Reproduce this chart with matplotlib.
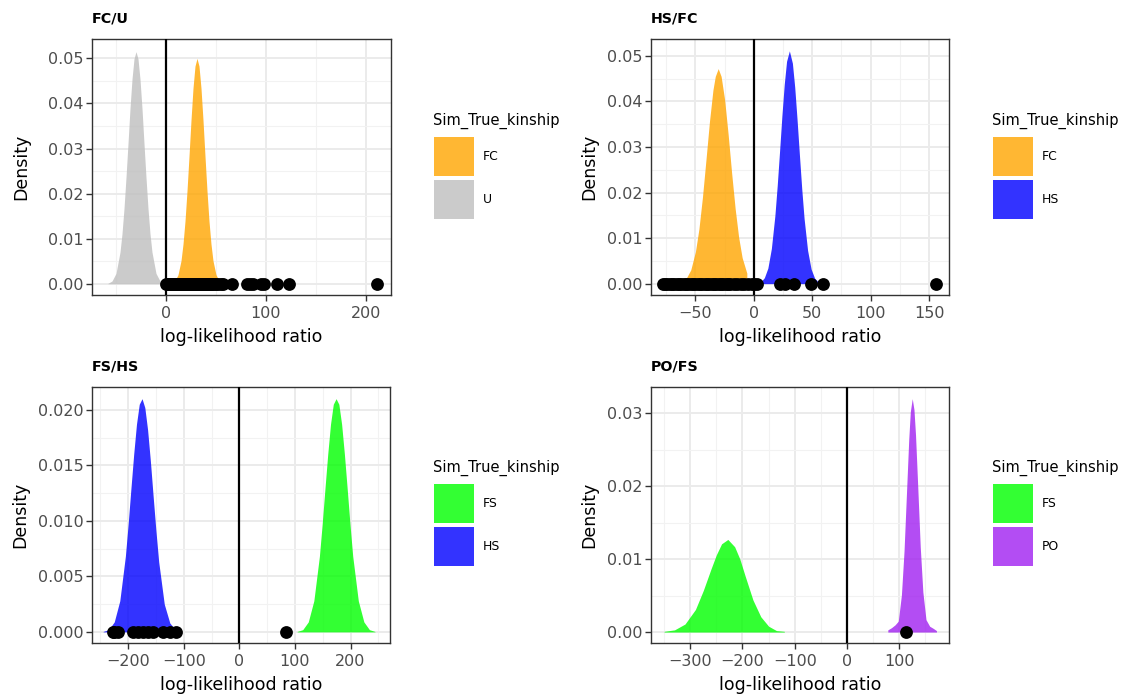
import numpy as np
import matplotlib
matplotlib.use("Agg")
import matplotlib.pyplot as plt
from matplotlib.patches import Rectangle

# ---- data ----
# FC/U panel
fcu_U_x = [-58, -54, -50, -46, -44, -42, -40, -38, -36, -34, -32, -30, -28, -26, -24, -22, -20, -18, -16, -14, -10, -6, -2]
fcu_U_y = [.0001, .0006, .0023, .0070, .0111, .0167, .0236, .0311, .0389, .0454, .0499, .0515, .0499, .0454, .0389, .0311, .0236, .0167, .0111, .0070, .0023, .0006, .0001]
fcu_FC_x = [9, 12, 15, 17, 19, 21, 23, 25, 27, 29, 31, 33, 35, 37, 39, 41, 43, 45, 47, 50, 53]
fcu_FC_y = [.0007, .0020, .0051, .0088, .0139, .0206, .0283, .0363, .0434, .0483, .0500, .0483, .0434, .0363, .0283, .0206, .0139, .0088, .0051, .0020, .0007]
fcu_obs = [0, 1, 2, 3, 4, 5, 6, 7, 8, 9, 10, 11, 12, 13, 14, 15, 16, 17, 18, 19, 20, 21, 22, 23, 24, 25, 26,
           27, 28, 29, 30, 31, 32, 33, 34, 35, 36, 37, 38, 39, 40, 41, 42, 43, 44, 45, 46, 48, 50, 52, 55, 57,
           66, 81, 84, 87, 95, 98, 111, 123, 211]

# HS/FC panel
hsfc_FC_x = [-58, -54, -50, -47, -44, -41, -38, -35, -33, -30.5, -28, -25, -22, -19, -16, -13, -10, -6]
hsfc_FC_y = [.0011, .0030, .0070, .0120, .0189, .0271, .0355, .0425, .0455, .0472, .0455, .0404, .0328, .0243, .0165, .0102, .0057, .0023]
hsfc_HS_x = [6, 9, 12, 15, 18, 20, 22, 24, 26, 28, 30.4, 33, 35, 37, 39, 41, 43, 46, 49, 52, 55]
hsfc_HS_y = [.0004, .0013, .0034, .0077, .0149, .0215, .0290, .0368, .0437, .0488, .0511, .0484, .0431, .0360, .0283, .0208, .0143, .0073, .0032, .0012, .0004]
hsfc_obs = [-78, -76, -74, -72, -70, -68, -66, -64, -62, -60, -58, -56, -54, -52, -50, -48, -46, -44, -42, -40,
            -38, -36, -34, -32, -30, -28, -26, -24, -22, -20, -17, -14, -11, -8, -5, -2, 0, 3, 22, 27, 34, 49, 59, 156]

# FS/HS panel
fshs_HS_x = [-245, -235, -225, -215, -205, -200, -195, -190, -185, -180, -175, -170, -165, -160, -155, -150, -145, -135, -125, -115, -105]
fshs_HS_y = [.00004, .0002, .0009, .0028, .0068, .0097, .0129, .0160, .0187, .0205, .0210, .0202, .0182, .0154, .0122, .0091, .0063, .0025, .0008, .0002, .00004]
fshs_FS_x = [104, 114, 124, 134, 144, 149, 154, 159, 164, 169, 174, 179, 184, 189, 194, 199, 204, 214, 224, 234, 244]
fshs_FS_y = [.00004, .0002, .0009, .0028, .0068, .0097, .0129, .0160, .0187, .0205, .0210, .0205, .0187, .0160, .0129, .0097, .0068, .0028, .0009, .0002, .00004]
fshs_obs = [-228, -225, -218, -191, -182, -173, -164, -156, -137, -125, -114, 84]

# PO/FS panel
pofs_FS_x = [-350, -330, -310, -290, -275, -260, -250, -240, -228, -215, -205, -195, -180, -165, -150, -135, -120]
pofs_FS_y = [.0001, .0003, .0011, .0031, .0057, .0087, .0106, .0121, .0127, .0117, .0100, .0077, .0044, .0021, .0008, .0002, .0001]
pofs_PO_x = [78, 85, 92, 98, 104, 109, 114, 118, 121, 124.7, 128, 131, 135, 140, 145, 151, 158, 165, 171]
pofs_PO_y = [.0003, .0006, .0010, .0015, .0051, .0111, .0196, .0264, .0302, .0320, .0305, .0270, .0203, .0117, .0055, .0017, .0008, .0005, .0002]
pofs_obs = [113]

titles = ["FC/U", "HS/FC", "FS/HS", "PO/FS"]
legend_labels = [["FC", "U"], ["FC", "HS"], ["FS", "HS"], ["FS", "PO"]]

COL = {"FC": "#FFA500", "U": "#BEBEBE", "HS": "#0000FF", "FS": "#00FF00", "PO": "#A020F0"}

W, H = 1124, 695
fig = plt.figure(figsize=(W / 100, H / 100), dpi=100)


def box(l, t, r, b):
    return [l / W, 1 - b / H, (r - l) / W, (b - t) / H]


def fx(x):
    return x / W


def fy(y):
    return 1 - y / H


panels = [
    dict(rect=(92, 39, 391, 295), xlim=(-74, 225), ylim=(-0.0025, 0.0543),
         xmaj=[0, 100, 200], xmin=[-50, 50, 150],
         ymaj=[0, .01, .02, .03, .04, .05], yfmt="%.2f", ymin=[.005, .015, .025, .035, .045],
         curves=[(fcu_U_x, fcu_U_y, "U"), (fcu_FC_x, fcu_FC_y, "FC")], obs=fcu_obs, ylab_x=30),
    dict(rect=(651, 39, 949, 295), xlim=(-88, 167), ylim=(-0.0025, 0.0537),
         xmaj=[-50, 0, 50, 100, 150], xmin=[-75, -25, 25, 75, 125],
         ymaj=[0, .01, .02, .03, .04, .05], yfmt="%.2f", ymin=[.005, .015, .025, .035, .045],
         curves=[(hsfc_FC_x, hsfc_FC_y, "FC"), (hsfc_HS_x, hsfc_HS_y, "HS")], obs=hsfc_obs, ylab_x=598),
    dict(rect=(92, 387, 390, 643), xlim=(-265, 271), ylim=(-0.001, 0.02205),
         xmaj=[-200, -100, 0, 100, 200], xmin=[-250, -150, -50, 50, 150, 250],
         ymaj=[0, .005, .010, .015, .020], yfmt="%.3f", ymin=[.0025, .0075, .0125, .0175],
         curves=[(fshs_HS_x, fshs_HS_y, "HS"), (fshs_FS_x, fshs_FS_y, "FS")], obs=fshs_obs, ylab_x=29),
    dict(rect=(651, 387, 949, 643), xlim=(-375, 195), ylim=(-0.0015, 0.0336),
         xmaj=[-300, -200, -100, 0, 100], xmin=[-350, -250, -150, -50, 50, 150],
         ymaj=[0, .01, .02, .03], yfmt="%.2f", ymin=[.005, .015, .025],
         curves=[(pofs_FS_x, pofs_FS_y, "FS"), (pofs_PO_x, pofs_PO_y, "PO")], obs=pofs_obs, ylab_x=598),
]

for i, p in enumerate(panels):
    l, t, r, b = p["rect"]
    ax = fig.add_axes(box(l, t, r, b))
    ax.set_xlim(*p["xlim"])
    ax.set_ylim(*p["ylim"])
    ax.set_xticks(p["xmaj"])
    ax.set_xticks(p["xmin"], minor=True)
    ax.set_yticks(p["ymaj"])
    ax.set_yticklabels([p["yfmt"] % v for v in p["ymaj"]])
    ax.set_yticks(p["ymin"], minor=True)
    ax.grid(True, which="major", color="#EBEBEB", lw=1.4, zorder=0)
    ax.grid(True, which="minor", color="#F2F2F2", lw=0.8, zorder=0)
    ax.set_axisbelow(True)
    ax.tick_params(which="major", length=4, width=1, color="#333333",
                   labelsize=11.5, labelcolor="#4D4D4D", pad=2)
    ax.tick_params(axis="x", which="major", pad=4)
    ax.tick_params(which="minor", length=0)
    for s in ax.spines.values():
        s.set_color("#333333")
        s.set_linewidth(1)

    for xs, ys, k in p["curves"]:
        ax.fill_between(xs, 0, ys, color=COL[k], alpha=0.8, lw=0, zorder=2)
    ax.axvline(0, color="black", lw=1.6, zorder=3)
    ax.scatter(p["obs"], np.zeros(len(p["obs"])), s=85, color="black", zorder=4, lw=0)

    ax.set_xlabel("log-likelihood ratio", fontsize=12.5, labelpad=5)
    ax.set_ylabel("Density", fontsize=12.5)
    ax.yaxis.set_label_coords((p["ylab_x"] - l) / (r - l), 0.5)
    fig.text(fx(l), fy(t - 21), titles[i], fontsize=10.3, fontweight="bold", va="center", ha="left")

    # legend
    kx = 434 if l < 500 else 993
    ty = 121 if t < 300 else 468
    fig.text(fx(kx - 1), fy(ty), "Sim_True_kinship", fontsize=10.5, va="center", ha="left")
    for j, lab in enumerate(legend_labels[i]):
        top = ty + 16 + j * 43
        fig.patches.append(Rectangle((fx(kx), fy(top + 39)), 40 / W, 39 / H,
                                     transform=fig.transFigure, facecolor=COL[lab],
                                     alpha=0.8, lw=0, figure=fig))
        fig.text(fx(kx + 49), fy(top + 19.5), lab, fontsize=8.9, va="center", ha="left")

fig.savefig("out.png", dpi=100)
